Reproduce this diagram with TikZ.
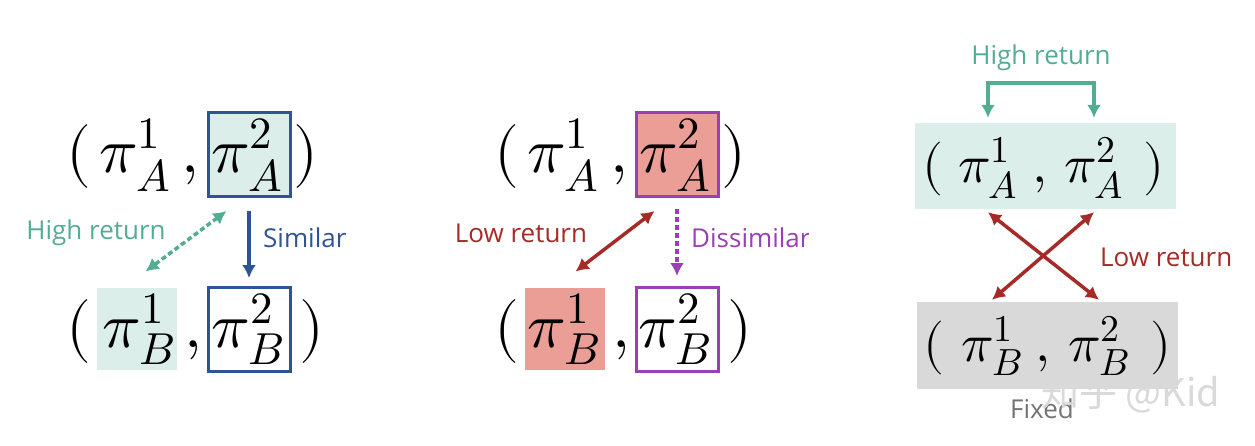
\documentclass[tikz,border=0pt]{standalone}
\usepackage{fontspec}
\usepackage{unicode-math}
\setmathfont{Latin Modern Math}
\setsansfont{Open Sans}
\newfontfamily\cjk{Noto Sans CJK SC}
\usepackage{tikz}
\usetikzlibrary{arrows.meta}
\definecolor{boxblue}{HTML}{2F5496}
\definecolor{mint}{HTML}{DCEEEA}
\definecolor{mintdark}{HTML}{52AD91}
\definecolor{salmon}{HTML}{EA9E96}
\definecolor{violet}{HTML}{9A3FB5}
\definecolor{lowred}{HTML}{A62B27}
\definecolor{fixgray}{HTML}{D9D9D9}
\newcommand{\bigmath}{\fontsize{64}{72}\selectfont}
\newcommand{\midmath}{\fontsize{54}{62}\selectfont}
\newcommand{\piterm}[2]{\pi^{#1}_{#2}}
\tikzstyle{sym} = [inner sep=0pt, anchor=base, font=\bigmath]
\tikzstyle{symsmall} = [sym, font=\midmath]
\tikzstyle{frame} = [rectangle, inner sep=0pt, minimum width=82pt,
    minimum height=84pt, line width=3pt]
\tikzstyle{tag} = [inner sep=0pt, font=\sffamily\fontsize{26}{30}\selectfont]
\tikzstyle{line} = [draw, line width=3.5pt, -{Latex[length=13pt,width=14pt]}]
\tikzstyle{dual} = [line, {Latex[length=13pt,width=14pt]}-{Latex[length=13pt,width=14pt]}]
\tikzstyle{dots} = [dash pattern=on 5pt off 3pt]

\begin{document}
\begin{tikzpicture}[x=1pt, y=-1pt]
    \useasboundingbox (0,0) rectangle (1255,445);
    % Place nodes: similar pair
    \node [frame, draw=boxblue, fill=mint] (fa2) at (249,154.5) {};
    \node [frame, fill=mint, minimum width=80pt, minimum height=82pt] (fb1) at (137,329) {};
    \node [frame, draw=boxblue] (fb2) at (249,329.5) {};
    \node [sym] (pa1) at (79,172) {$($};
    \node [sym] (sa1) at (135,172) {$\piterm{1}{A}$};
    \node [sym] (ca) at (190,172) {$,$};
    \node [sym] (sa2) at (247,172) {$\piterm{2}{A}$};
    \node [sym] (pa2) at (306,172) {$)$};
    \node [sym] (pb1) at (79,347) {$($};
    \node [sym] (sb1) at (139,347) {$\piterm{1}{B}$};
    \node [sym] (cb) at (193,347) {$,$};
    \node [sym] (sb2) at (248,347) {$\piterm{2}{B}$};
    \node [sym] (pb2) at (312,347) {$)$};
    \node [tag, mintdark] (hr1) at (96,233) {High return};
    \node [tag, boxblue, anchor=west] (sim) at (263,238) {Similar};
    % Place nodes: dissimilar pair
    \node [frame, draw=violet, fill=salmon] (fc2) at (677,154.5) {};
    \node [frame, fill=salmon, minimum width=80pt, minimum height=82pt] (fd1) at (565,329) {};
    \node [frame, draw=violet] (fd2) at (677,329.5) {};
    \node [sym] (pc1) at (507,172) {$($};
    \node [sym] (sc1) at (563,172) {$\piterm{1}{A}$};
    \node [sym] (cc) at (619,172) {$,$};
    \node [sym] (sc2) at (675,172) {$\piterm{2}{A}$};
    \node [sym] (pc2) at (734,172) {$)$};
    \node [sym] (pd1) at (507,347) {$($};
    \node [sym] (sd1) at (564,347) {$\piterm{1}{B}$};
    \node [sym] (cd) at (621,347) {$,$};
    \node [sym] (sd2) at (675,347) {$\piterm{2}{B}$};
    \node [sym] (pd2) at (740,347) {$)$};
    \node [tag, lowred] (lr2) at (521,233) {Low return};
    \begin{scope}
        \clip (0,0) rectangle (808,445);
        \node [tag, violet, anchor=west] (dis) at (691,238) {Dissimilar};
    \end{scope}
    % Place nodes: fixed pair
    \node [rectangle, fill=mint, minimum width=261pt, minimum height=86pt] (rowA) at (1045.5,166) {};
    \node [rectangle, fill=fixgray, minimum width=261pt, minimum height=87pt] (rowB) at (1047.5,345.5) {};
    \node [symsmall] (qa1) at (933,182) {$($};
    \node [symsmall] (ta1) at (988,182) {$\piterm{1}{A}$};
    \node [symsmall] (qca) at (1040,182) {$,$};
    \node [symsmall] (ta2) at (1094,182) {$\piterm{2}{A}$};
    \node [symsmall] (qa2) at (1154,182) {$)$};
    \node [symsmall] (qb1) at (934,361) {$($};
    \node [symsmall] (tb1) at (992,361) {$\piterm{1}{B}$};
    \node [symsmall] (qcb) at (1043,361) {$,$};
    \node [symsmall] (tb2) at (1099,361) {$\piterm{2}{B}$};
    \node [symsmall] (qb2) at (1161,361) {$)$};
    \node [tag, mintdark] (hr3) at (1041,58) {High return};
    \node [tag, lowred, anchor=west] (lr3) at (1100,257) {Low return};
    \node [tag, text=gray!90!black] (fix) at (1042,409) {Fixed};
    \node [text=gray!30, font=\cjk\fontsize{38}{44}\selectfont] (wm) at (1131,394) {知乎 @Kid};
    % Draw edges
    \path [line, boxblue, shorten <=13pt, shorten >=8pt] (fa2) -- (fb2);
    \path [dual, mintdark, dots] ([xshift=20pt,yshift=-13pt]fa2.south west) -- ([xshift=50pt,yshift=15pt]fb1.north west);
    \path [line, violet, dots, shorten <=11pt, shorten >=10pt] (fc2) -- (fd2);
    \path [dual, lowred] ([xshift=20pt,yshift=-13pt]fc2.south west) -- ([xshift=52pt,yshift=15pt]fd1.north west);
    \path [dual, mintdark] ([yshift=5pt]rowA.north -| ta1) -- ++(0,-35) -| ([yshift=5pt]rowA.north -| ta2);
    \path [dual, lowred] ([yshift=-3pt]rowA.south -| ta1) -- ([yshift=2pt]rowB.north -| tb2);
    \path [dual, lowred] ([yshift=-3pt]rowA.south -| ta2) -- ([yshift=2pt]rowB.north -| tb1);
\end{tikzpicture}
\end{document}
